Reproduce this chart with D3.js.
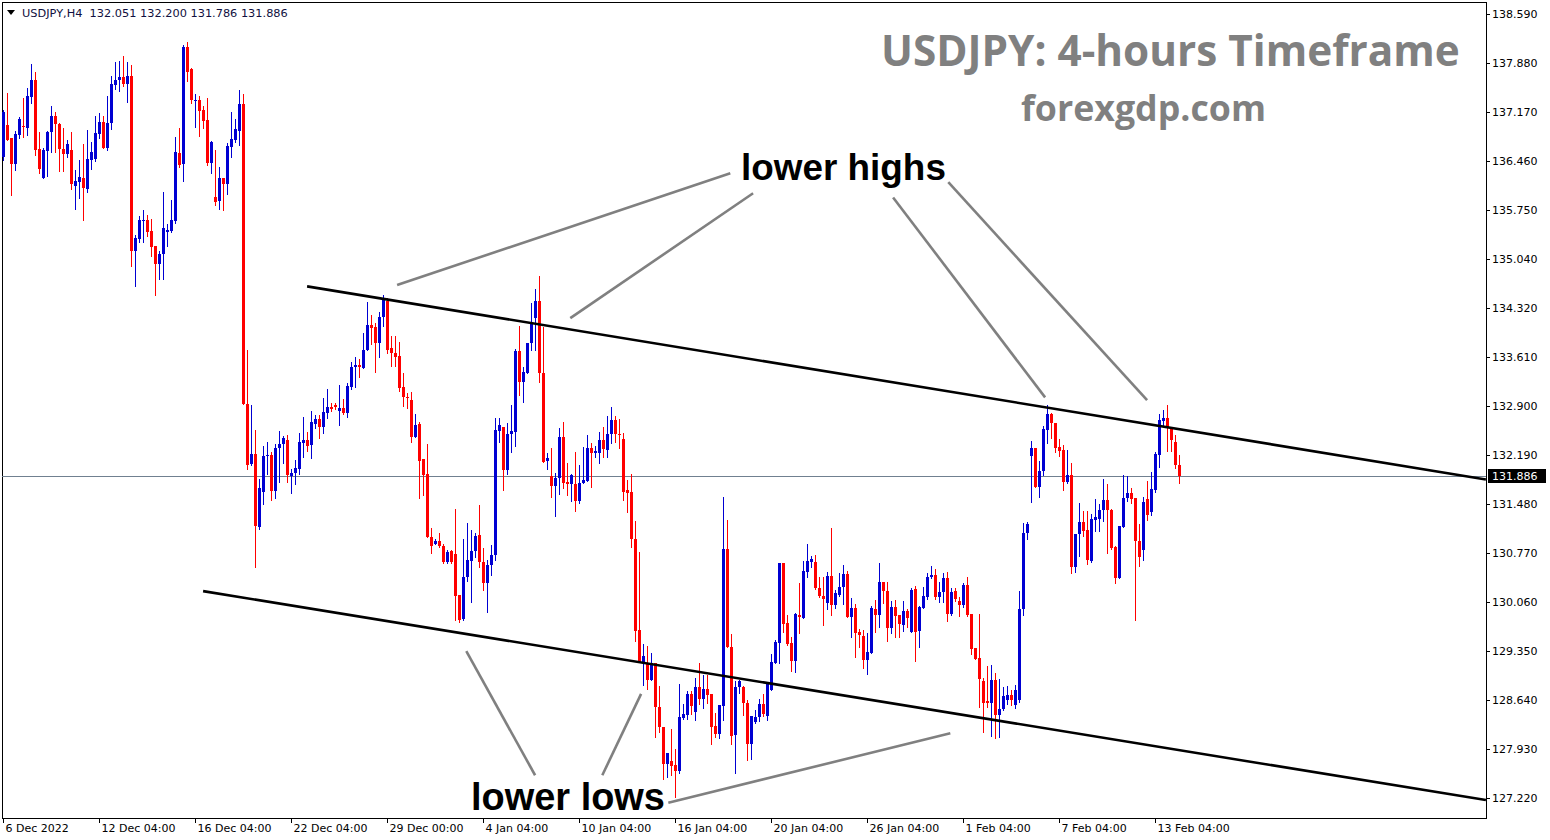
<!DOCTYPE html>
<html>
<head>
<meta charset="utf-8">
<script src="https://cdn.jsdelivr.net/npm/d3@7"></script>
<style>
  body { margin: 0; background: #fff; }
  svg { display: block; font-family: "DejaVu Sans", sans-serif; }
</style>
</head>
<body>
<svg id="chart" width="1550" height="840"></svg>
<script>
// --- data (USDJPY H4 candles)
const open = [
  136.51, 136.98, 136.79, 136.41, 136.83, 136.96, 136.93, 137.38, 137.63, 136.63,
  136.21, 136.60, 136.88, 137.11, 136.99, 136.63, 136.56, 136.62, 136.09, 136.15,
  136.21, 136.05, 136.47, 136.48, 136.85, 137.02, 136.64, 137.01, 137.56, 137.64,
  137.67, 137.57, 137.69, 135.15, 135.32, 135.59, 135.60, 135.44, 135.22, 134.96,
  135.11, 135.43, 135.44, 135.59, 136.57, 136.41, 138.11, 137.79, 137.34, 137.35,
  137.20, 137.05, 136.43, 135.93, 135.88, 136.21, 136.12, 136.66, 136.76, 136.89,
  137.28, 132.93, 132.06, 132.21, 131.15, 131.66, 132.18, 132.19, 131.67, 132.29,
  132.35, 132.41, 131.89, 131.93, 131.99, 132.37, 132.41, 132.34, 132.64, 132.71,
  132.60, 132.80, 132.89, 132.92, 132.83, 132.87, 132.80, 133.18, 133.47, 133.50,
  133.45, 133.72, 134.08, 134.05, 133.82, 134.19, 134.43, 133.74, 133.67, 133.63,
  133.18, 133.03, 132.99, 132.45, 132.64, 132.13, 131.92, 131.00, 130.90, 130.95,
  130.87, 130.64, 130.80, 130.76, 130.16, 129.81, 130.42, 130.66, 130.80, 131.03,
  130.64, 130.34, 130.60, 130.74, 132.54, 132.60, 131.98, 132.50, 132.53, 133.70,
  133.25, 133.38, 133.82, 134.18, 134.43, 133.38, 132.11, 131.89, 131.74, 131.86,
  132.45, 131.80, 131.77, 131.77, 131.53, 131.79, 131.82, 132.29, 132.22, 132.22,
  132.41, 132.27, 132.50, 132.70, 132.50, 132.42, 131.69, 131.66, 130.97, 129.66,
  129.19, 129.18, 128.93, 129.18, 128.54, 128.25, 127.71, 127.76, 127.70, 127.61,
  128.38, 128.42, 128.73, 128.47, 128.83, 128.65, 128.80, 128.73, 128.26, 128.15,
  128.55, 130.83, 129.41, 128.13, 128.83, 128.83, 128.60, 128.00, 128.32, 128.39,
  128.58, 128.41, 128.79, 129.18, 129.47, 130.63, 129.76, 129.47, 129.21, 129.87,
  129.83, 130.50, 130.64, 130.64, 130.26, 130.15, 130.05, 130.44, 130.02, 130.16,
  130.28, 130.47, 129.84, 129.97, 129.63, 129.57, 129.22, 129.32, 129.96, 129.87,
  130.35, 130.22, 129.68, 129.99, 129.87, 129.73, 129.93, 129.63, 130.25, 129.64,
  129.97, 130.13, 130.42, 130.45, 130.13, 130.21, 130.41, 129.89, 130.22, 130.08,
  130.02, 130.31, 129.89, 129.39, 129.25, 128.92, 128.63, 128.60, 128.93, 128.42,
  128.51, 128.64, 128.71, 128.57, 128.64, 129.96, 131.06, 132.18, 132.29, 131.73,
  131.96, 132.56, 132.79, 132.66, 132.31, 132.27, 131.80, 131.90, 130.57, 131.05,
  131.22, 131.11, 130.66, 131.25, 131.26, 131.40, 131.54, 131.40, 130.86, 130.41,
  131.15, 131.57, 131.64, 131.57, 130.95, 130.82, 131.55, 131.37, 131.69, 132.19,
  132.69, 132.73, 132.60, 132.38, 132.051
];
const high = [
  137.20, 137.44, 136.79, 136.89, 137.09, 137.37, 137.51, 137.86, 137.75, 136.88,
  136.64, 136.89, 137.25, 137.17, 137.01, 136.93, 136.76, 136.88, 136.33, 136.47,
  136.70, 136.91, 136.73, 137.11, 137.15, 137.11, 137.40, 137.69, 137.89, 137.91,
  137.98, 137.89, 137.85, 135.38, 135.66, 135.75, 135.67, 135.61, 135.22, 135.15,
  136.01, 135.54, 135.89, 136.80, 136.93, 138.14, 138.18, 137.80, 137.43, 137.40,
  137.25, 137.37, 136.75, 136.62, 136.37, 136.21, 136.72, 137.17, 137.06, 137.49,
  137.43, 133.72, 132.92, 132.56, 131.84, 132.32, 132.38, 132.24, 132.35, 132.54,
  132.47, 132.48, 131.99, 132.12, 132.51, 132.74, 132.53, 132.83, 132.77, 132.77,
  133.02, 133.15, 132.95, 132.95, 133.21, 133.00, 133.24, 133.54, 133.61, 133.58,
  133.96, 134.41, 134.22, 134.11, 134.27, 134.51, 134.47, 133.92, 133.92, 133.83,
  133.38, 133.09, 133.11, 132.79, 132.67, 132.13, 132.35, 131.13, 130.97, 131.06,
  130.90, 130.82, 130.82, 131.41, 130.16, 130.97, 131.21, 131.11, 131.06, 131.47,
  130.84, 130.67, 130.89, 132.73, 132.73, 132.60, 132.66, 132.92, 133.73, 134.06,
  133.47, 133.82, 134.40, 134.60, 134.79, 134.05, 132.22, 132.29, 131.93, 132.58,
  132.67, 132.08, 131.92, 132.24, 132.05, 132.31, 132.48, 132.37, 132.32, 132.53,
  132.60, 132.76, 132.89, 132.76, 132.71, 132.51, 131.83, 131.92, 131.24, 130.79,
  129.45, 129.42, 129.32, 129.18, 128.84, 128.25, 127.87, 128.22, 127.93, 128.87,
  128.58, 128.77, 128.77, 128.96, 129.18, 129.00, 129.00, 128.73, 128.45, 128.57,
  131.58, 131.25, 129.60, 128.92, 128.93, 128.84, 128.64, 128.41, 128.50, 128.65,
  128.73, 128.87, 129.31, 129.51, 130.63, 130.63, 129.87, 129.55, 129.90, 130.34,
  130.66, 130.90, 130.73, 130.74, 130.42, 130.42, 130.50, 131.13, 130.24, 130.48,
  130.60, 130.51, 130.12, 130.03, 129.67, 129.66, 129.61, 130.00, 130.09, 130.63,
  130.35, 130.35, 130.08, 130.09, 129.87, 130.08, 129.96, 130.26, 130.29, 130.00,
  130.28, 130.48, 130.58, 130.54, 130.35, 130.48, 130.50, 130.26, 130.26, 130.13,
  130.34, 130.42, 129.89, 129.39, 129.89, 128.96, 129.13, 129.15, 129.03, 128.94,
  128.83, 128.84, 128.79, 128.86, 130.22, 131.21, 131.22, 132.40, 132.29, 132.11,
  132.61, 132.92, 132.80, 132.66, 132.42, 132.34, 132.27, 132.08, 131.05, 131.50,
  131.38, 131.38, 131.34, 131.55, 131.48, 131.84, 131.77, 131.41, 130.87, 131.16,
  131.90, 131.89, 131.71, 131.57, 131.19, 131.58, 131.82, 131.95, 132.24, 132.79,
  132.85, 132.92, 132.60, 132.48, 132.200
];
const low = [
  136.47, 136.76, 135.96, 136.33, 136.79, 136.80, 136.83, 137.30, 136.54, 136.28,
  136.21, 136.24, 136.59, 136.59, 136.31, 136.31, 136.51, 136.05, 135.76, 135.92,
  135.60, 136.01, 136.34, 136.46, 136.79, 136.64, 136.62, 136.92, 137.50, 137.47,
  137.54, 137.31, 134.93, 134.64, 135.28, 135.28, 135.37, 135.08, 134.51, 134.74,
  134.74, 135.22, 135.43, 135.56, 136.37, 136.17, 137.62, 137.30, 136.95, 136.82,
  136.93, 136.40, 136.28, 135.82, 135.76, 135.75, 135.98, 136.51, 136.73, 136.69,
  132.93, 131.99, 132.05, 130.57, 131.12, 131.48, 131.92, 131.54, 131.57, 131.80,
  132.08, 131.80, 131.64, 131.77, 131.92, 132.16, 132.25, 132.15, 132.58, 132.44,
  132.51, 132.73, 132.83, 132.86, 132.63, 132.79, 132.74, 133.15, 133.18, 133.32,
  133.45, 133.72, 133.80, 133.40, 133.61, 134.06, 133.67, 133.48, 133.48, 133.12,
  132.90, 132.87, 132.38, 132.45, 131.57, 131.61, 131.00, 130.77, 130.90, 130.86,
  130.63, 130.63, 130.63, 129.80, 129.77, 129.80, 130.37, 130.06, 130.71, 130.57,
  130.24, 129.92, 130.45, 130.67, 132.38, 131.69, 131.92, 132.24, 132.32, 133.06,
  132.96, 133.38, 133.72, 133.72, 133.25, 132.09, 131.99, 131.58, 131.31, 131.63,
  131.71, 131.61, 131.53, 131.38, 131.50, 131.79, 131.82, 131.73, 132.16, 132.08,
  132.16, 132.16, 132.37, 132.38, 132.29, 131.54, 131.37, 130.86, 129.50, 129.19,
  128.86, 128.80, 128.93, 128.10, 128.18, 127.49, 127.52, 127.55, 127.23, 127.58,
  128.36, 128.36, 128.44, 128.35, 128.58, 128.52, 128.60, 128.00, 128.10, 128.09,
  128.35, 129.41, 128.00, 127.58, 128.74, 128.42, 127.77, 127.78, 128.31, 128.34,
  128.41, 128.35, 128.79, 129.18, 129.18, 129.63, 129.44, 129.06, 129.05, 129.61,
  129.83, 130.42, 130.57, 130.25, 130.13, 129.73, 129.96, 129.87, 129.97, 130.15,
  130.03, 129.84, 129.55, 129.26, 129.41, 129.10, 129.02, 129.32, 129.63, 129.70,
  130.05, 129.50, 129.61, 129.55, 129.55, 129.64, 129.70, 129.63, 129.21, 129.41,
  129.97, 130.10, 130.41, 130.10, 130.06, 130.06, 129.79, 129.87, 130.08, 129.86,
  129.99, 129.86, 129.31, 129.23, 128.54, 128.18, 128.54, 128.12, 128.09, 128.10,
  128.50, 128.58, 128.57, 128.52, 128.61, 129.87, 130.97, 131.51, 131.73, 131.58,
  131.90, 132.37, 132.44, 132.24, 132.18, 131.69, 131.79, 130.48, 130.50, 130.73,
  131.02, 130.61, 130.64, 131.09, 131.09, 131.24, 130.77, 130.83, 130.34, 130.41,
  131.15, 131.53, 131.50, 129.80, 130.58, 130.67, 131.25, 131.32, 131.66, 132.02,
  132.61, 132.25, 132.25, 132.00, 131.786
];
const close = [
  137.17, 136.76, 136.41, 136.85, 137.06, 136.95, 137.40, 137.63, 136.62, 136.34,
  136.62, 136.88, 137.11, 136.99, 136.63, 136.56, 136.70, 136.12, 136.17, 136.22,
  136.06, 136.48, 136.59, 136.86, 137.02, 136.64, 137.01, 137.57, 137.64, 137.67,
  137.57, 137.69, 135.15, 135.34, 135.60, 135.60, 135.43, 135.21, 134.96, 135.11,
  135.48, 135.46, 135.60, 136.59, 136.40, 138.11, 137.75, 137.34, 137.35, 137.18,
  137.04, 136.43, 136.73, 135.86, 136.21, 136.12, 136.67, 136.77, 136.92, 137.28,
  132.93, 132.05, 132.21, 131.16, 131.71, 132.18, 132.19, 131.67, 132.29, 132.35,
  132.44, 131.90, 131.93, 132.00, 132.38, 132.41, 132.32, 132.67, 132.71, 132.60,
  132.82, 132.89, 132.86, 132.89, 132.87, 132.80, 133.19, 133.47, 133.50, 133.47,
  133.72, 134.08, 134.03, 133.82, 134.19, 134.45, 133.72, 133.67, 133.61, 133.16,
  133.03, 133.02, 132.45, 132.63, 132.11, 131.90, 131.00, 130.87, 130.95, 130.87,
  130.64, 130.79, 130.64, 130.15, 129.80, 130.42, 130.67, 130.80, 131.02, 130.64,
  130.34, 130.60, 130.74, 132.56, 132.63, 131.98, 132.50, 132.54, 133.70, 133.25,
  133.40, 133.82, 134.11, 134.43, 133.38, 132.09, 132.15, 131.74, 131.86, 132.45,
  131.79, 131.77, 131.90, 131.53, 131.79, 131.83, 132.29, 132.22, 132.25, 132.41,
  132.28, 132.50, 132.70, 132.50, 132.48, 131.66, 131.64, 130.97, 129.64, 129.19,
  129.28, 128.93, 129.18, 128.54, 128.25, 127.71, 127.87, 127.68, 127.61, 128.39,
  128.44, 128.73, 128.55, 128.83, 128.65, 128.80, 128.71, 128.25, 128.15, 128.57,
  130.83, 129.41, 128.12, 128.83, 128.92, 128.60, 128.00, 128.41, 128.39, 128.58,
  128.44, 128.87, 129.19, 129.48, 130.63, 129.74, 129.45, 129.21, 129.89, 129.84,
  130.51, 130.66, 130.68, 130.26, 130.15, 130.10, 130.44, 130.02, 130.19, 130.28,
  130.47, 129.84, 129.97, 129.61, 129.58, 129.22, 129.34, 129.97, 129.87, 130.35,
  130.22, 129.68, 129.99, 129.86, 129.74, 129.93, 129.83, 130.24, 129.63, 129.99,
  130.15, 130.42, 130.45, 130.13, 130.21, 130.41, 129.89, 130.21, 130.10, 130.02,
  130.31, 129.87, 129.38, 129.23, 128.94, 128.60, 128.60, 128.93, 128.42, 128.51,
  128.70, 128.71, 128.64, 128.79, 129.96, 131.06, 131.19, 132.29, 131.73, 131.96,
  132.57, 132.79, 132.66, 132.29, 132.25, 131.80, 131.90, 130.57, 131.05, 131.22,
  131.09, 130.67, 131.26, 131.29, 131.40, 131.54, 131.40, 130.84, 130.41, 131.16,
  131.57, 131.64, 131.56, 130.95, 130.71, 131.51, 131.32, 131.70, 132.21, 132.70,
  132.73, 132.60, 132.41, 132.05, 131.886
];

const priceTicks = [138.59, 137.88, 137.17, 136.46, 135.75, 135.04, 134.32, 133.61, 132.90,
  132.19, 131.48, 130.77, 130.06, 129.35, 128.64, 127.93, 127.22];
const timeLabels = ['6 Dec 2022', '12 Dec 04:00', '16 Dec 04:00', '22 Dec 04:00', '29 Dec 00:00',
  '4 Jan 04:00', '10 Jan 04:00', '16 Jan 04:00', '20 Jan 04:00', '26 Jan 04:00',
  '1 Feb 04:00', '7 Feb 04:00', '13 Feb 04:00'];
const barsPerLabel = 24;
const symbol = 'USDJPY,H4';
const lastPrice = 131.886;

// channel lines, [barIndex, price] pairs
const channelLines = [
  [[75.9, 134.64], [370.6, 131.84]],
  [[49.9, 130.22], [370.6, 127.19]]
];
// grey pointer lines for the labels
const pointerLines = [
  [[98.4, 134.66], [181.7, 136.28]],
  [[141.7, 134.18], [187.4, 135.99]],
  [[222.4, 135.93], [260.4, 133.03]],
  [[236.2, 136.15], [285.9, 132.99]],
  [[115.7, 129.35], [132.9, 127.55]],
  [[149.7, 127.55], [159.4, 128.73]],
  [[166.2, 127.15], [236.7, 128.16]]
];

// --- layout
const WIDTH = 1550, HEIGHT = 840;
const plot = { left: 2, top: 2, right: 1486, bottom: 818 };
const BULL = '#0000d2', BEAR = '#ff0000';

const svg = d3.select('#chart');

const x = d3.scaleLinear().domain([0, 1]).range([3.5, 7.5]);
const y = d3.scaleLinear().domain([127.22, 138.59]).range([798, 14]);

const bars = open.map((o, i) => ({ i, o, h: high[i], l: low[i], c: close[i] }));

svg.append('defs').append('clipPath').attr('id', 'plotClip')
  .append('rect')
  .attr('x', plot.left).attr('y', plot.top)
  .attr('width', plot.right - plot.left).attr('height', plot.bottom - plot.top);

// frame
svg.append('rect')
  .attr('x', plot.left + 0.5).attr('y', plot.top + 0.5)
  .attr('width', plot.right - plot.left).attr('height', plot.bottom - plot.top)
  .attr('fill', 'none').attr('stroke', '#000').attr('stroke-width', 1)
  .attr('shape-rendering', 'crispEdges');

const g = svg.append('g').attr('clip-path', 'url(#plotClip)');

// last price line
g.append('line')
  .attr('x1', plot.left).attr('x2', plot.right)
  .attr('y1', Math.round(y(lastPrice)) + 0.5).attr('y2', Math.round(y(lastPrice)) + 0.5)
  .attr('stroke', '#708090').attr('stroke-width', 1)
  .attr('shape-rendering', 'crispEdges');

// candles
const candle = g.append('g').selectAll('g')
  .data(bars)
  .enter()
  .append('g')
  .attr('shape-rendering', 'crispEdges');

candle.append('line')
  .attr('x1', d => x(d.i)).attr('x2', d => x(d.i))
  .attr('y1', d => Math.round(y(d.h))).attr('y2', d => Math.round(y(d.l)) + 1)
  .attr('stroke', d => d.c >= d.o ? BULL : BEAR)
  .attr('stroke-width', 1);

candle.append('rect')
  .attr('x', d => x(d.i) - 1.5)
  .attr('width', 3)
  .attr('y', d => Math.round(y(Math.max(d.o, d.c))))
  .attr('height', d => Math.max(1, Math.round(y(Math.min(d.o, d.c))) - Math.round(y(Math.max(d.o, d.c)))))
  .attr('fill', d => d.c >= d.o ? BULL : BEAR);

// channel + pointer lines
const lineGen = d3.line().x(d => x(d[0])).y(d => y(d[1]));

g.append('g').selectAll('path')
  .data(pointerLines)
  .enter()
  .append('path')
  .attr('d', lineGen)
  .attr('fill', 'none')
  .attr('stroke', '#808080')
  .attr('stroke-width', 2.6);

g.append('g').selectAll('path')
  .data(channelLines)
  .enter()
  .append('path')
  .attr('d', lineGen)
  .attr('fill', 'none')
  .attr('stroke', '#000')
  .attr('stroke-width', 2.6);

// fit a text element to a width in px
function fit(sel, width) {
  const size = parseFloat(sel.attr('font-size'));
  const w = sel.node().getComputedTextLength();
  sel.attr('font-size', size * width / w);
  return sel;
}

// annotation labels
fit(svg.append('text')
  .attr('x', 741).attr('y', 180)
  .attr('font-family', '"Liberation Sans", Arial, sans-serif')
  .attr('font-weight', 'bold').attr('font-size', 38)
  .attr('fill', '#000')
  .text('lower highs'), 205);

fit(svg.append('text')
  .attr('x', 471).attr('y', 810)
  .attr('font-family', '"Liberation Sans", Arial, sans-serif')
  .attr('font-weight', 'bold').attr('font-size', 38)
  .attr('fill', '#000')
  .text('lower lows'), 194);

// watermark title
fit(svg.append('text')
  .attr('x', 881).attr('y', 66)
  .attr('font-family', '"Open Sans", sans-serif')
  .attr('font-weight', 'bold').attr('font-size', 42)
  .attr('fill', '#808080')
  .text('USDJPY: 4-hours Timeframe'), 579);

fit(svg.append('text')
  .attr('x', 1021).attr('y', 121)
  .attr('font-family', '"Open Sans", sans-serif')
  .attr('font-weight', 'bold').attr('font-size', 34)
  .attr('fill', '#808080')
  .text('forexgdp.com'), 245);

// header
svg.append('path')
  .attr('d', 'M7,10 L15,10 L11,15 Z')
  .attr('fill', '#000');

const last = bars[bars.length - 1];
fit(svg.append('text')
  .attr('x', 22).attr('y', 17)
  .attr('font-size', 11.5)
  .attr('fill', '#101040')
  .attr('xml:space', 'preserve')
  .text(`${symbol}  ${d3.format('.3f')(last.o)} ${d3.format('.3f')(last.h)} ${d3.format('.3f')(last.l)} ${d3.format('.3f')(last.c)}`), 266);

// price axis
const yAxis = svg.append('g');
yAxis.selectAll('line')
  .data(priceTicks)
  .enter()
  .append('line')
  .attr('x1', plot.right).attr('x2', plot.right + 4)
  .attr('y1', d => Math.round(y(d)) + 0.5).attr('y2', d => Math.round(y(d)) + 0.5)
  .attr('stroke', '#000')
  .attr('shape-rendering', 'crispEdges');

yAxis.selectAll('text')
  .data(priceTicks)
  .enter()
  .append('text')
  .attr('x', plot.right + 6)
  .attr('y', d => y(d) + 4)
  .attr('font-size', 11)
  .attr('fill', '#000')
  .text(d => d3.format('.3f')(d));

// last price tag
svg.append('rect')
  .attr('x', plot.right + 2).attr('y', Math.round(y(lastPrice)) - 7)
  .attr('width', 58).attr('height', 14)
  .attr('fill', '#000');
svg.append('text')
  .attr('x', plot.right + 6).attr('y', y(lastPrice) + 4)
  .attr('font-size', 11)
  .attr('fill', '#fff')
  .text(d3.format('.3f')(lastPrice));

// time axis
const xAxis = svg.append('g');
xAxis.selectAll('line')
  .data(timeLabels)
  .enter()
  .append('line')
  .attr('x1', (d, k) => x(k * barsPerLabel)).attr('x2', (d, k) => x(k * barsPerLabel))
  .attr('y1', plot.bottom).attr('y2', plot.bottom + 5)
  .attr('stroke', '#000')
  .attr('shape-rendering', 'crispEdges');

xAxis.selectAll('text')
  .data(timeLabels)
  .enter()
  .append('text')
  .attr('x', (d, k) => x(k * barsPerLabel) + 2)
  .attr('y', plot.bottom + 14)
  .attr('font-size', 11)
  .attr('fill', '#000')
  .text(d => d);
</script>
</body>
</html>
